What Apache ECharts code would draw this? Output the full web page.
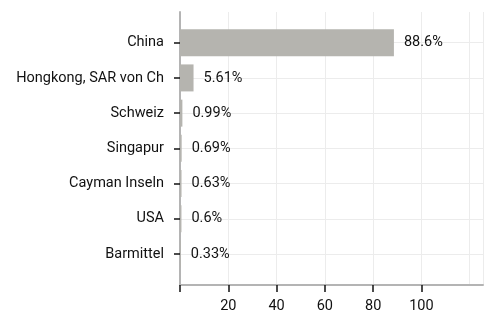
<!DOCTYPE html>
<html>
<head>
<meta charset="utf-8">
<script src="https://cdn.jsdelivr.net/npm/echarts@6/dist/echarts.min.js"></script>
<style>
  html, body { margin: 0; padding: 0; background: #fff; }
  #chart { width: 489px; height: 314px; }
</style>
</head>
<body>
<div id="chart"></div>
<script>
const categories = ['China', 'Hongkong, SAR von Ch', 'Schweiz', 'Singapur', 'Cayman Inseln', 'USA', 'Barmittel'];
const shares = [88.6, 5.61, 0.99, 0.69, 0.63, 0.6, 0.33];
const tickValues = [0, 20, 40, 60, 80, 100];
const tickLabels = [20, 40, 60, 80, 100];

const FONT = 'Roboto';
const FS = 14.5;
const xMax = 125.5;

const chart = echarts.init(document.getElementById('chart'), null, {renderer: 'canvas'});

chart.setOption({
    animation: false,
    textStyle: {fontFamily: FONT},
    grid: [
        // bars: band centres line up with first/last category
        {left: 180, right: 6, top: 42.7, bottom: 60, containLabel: false},
        // frame: axis lines and vertical grid
        {left: 180, right: 6, top: 12, bottom: 29, containLabel: false}
    ],
    xAxis: [
        {gridIndex: 0, type: 'value', min: 0, max: xMax, show: false},
        {
            gridIndex: 1, type: 'value', min: 0, max: xMax, interval: 20,
            axisLine: {show: true, lineStyle: {color: '#b4b4b4', width: 2}},
            axisTick: {show: true, customValues: tickValues, length: 7, lineStyle: {color: '#111', width: 1.5}},
            axisLabel: {customValues: tickLabels, color: '#111', fontSize: FS, margin: 14, fontFamily: FONT},
            splitLine: {show: false}
        },
        {
            gridIndex: 1, type: 'value', min: 0, max: xMax, interval: 20,
            axisLine: {show: false}, axisTick: {show: false}, axisLabel: {show: false},
            splitLine: {show: true, lineStyle: {color: '#ececec', width: 1}}
        }
    ],
    yAxis: [
        {
            gridIndex: 0, type: 'category', data: categories, inverse: true, boundaryGap: false,
            axisLine: {show: false},
            axisTick: {show: true, length: 6, lineStyle: {color: '#111', width: 1.5}},
            axisLabel: {color: '#111', fontSize: FS, margin: 16, fontFamily: FONT},
            splitLine: {show: true, lineStyle: {color: '#ececec', width: 1}}
        },
        {
            gridIndex: 1, type: 'value', min: 0, max: 1,
            axisLine: {show: true, lineStyle: {color: '#b4b4b4', width: 2}},
            axisTick: {show: false}, axisLabel: {show: false}, splitLine: {show: false}
        }
    ],
    series: [{
        type: 'bar',
        xAxisIndex: 0,
        yAxisIndex: 0,
        data: shares,
        barWidth: 27,
        itemStyle: {color: '#b5b4af'},
        label: {
            show: true,
            position: 'right',
            distance: 10,
            color: '#111',
            fontSize: FS,
            fontFamily: FONT,
            formatter: p => p.value + '%'
        }
    }]
});
</script>
</body>
</html>
